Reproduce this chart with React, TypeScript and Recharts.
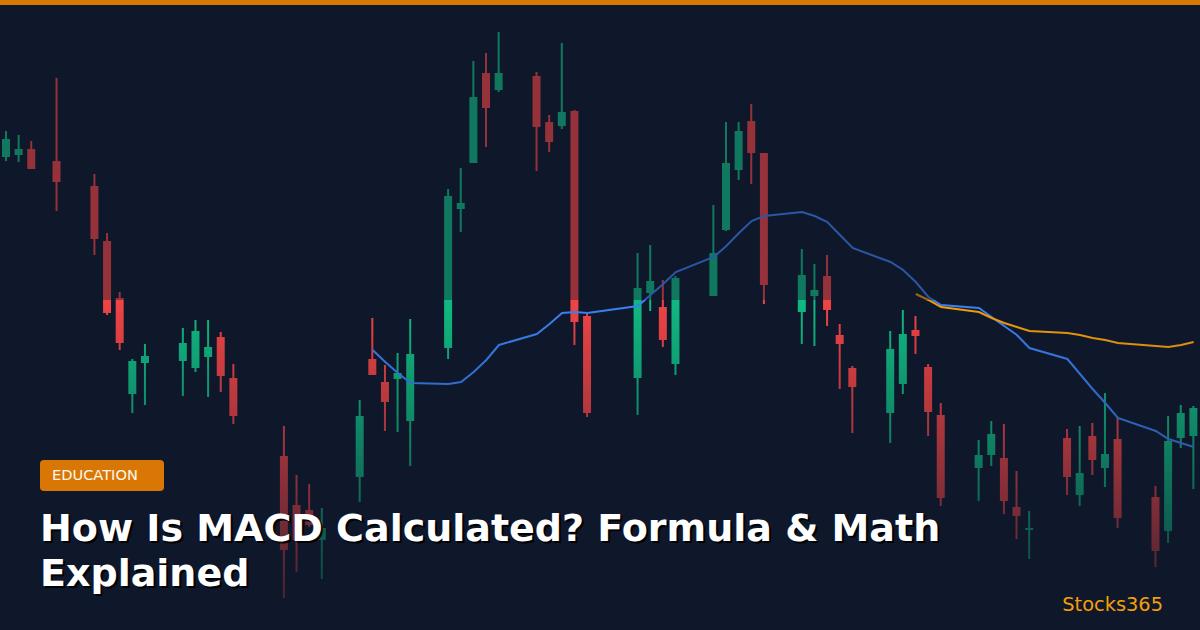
import { ComposedChart, Bar, Line, XAxis, YAxis } from "recharts";

// calendar slots on the x axis (weekends / holidays stay empty)
const TOTAL_DAYS = 95;
const sessionDay = [
  0, 1, 2, 4, 7, 8, 9, 10, 11, 14, 15, 16, 17, 18, 22, 23, 24, 25, 28, 29, 30, 31, 32,
  35, 36, 37, 38, 39, 42, 43, 44, 45, 46, 50, 51, 52, 53, 56, 57, 58, 59, 60,
  63, 64, 65, 66, 67, 70, 71, 72, 73, 74, 77, 78, 79, 80, 81, 84, 85, 86, 87, 88,
  91, 92, 93, 94,
];

const openPx = [
  147.3, 147.5, 148.1, 146.9,
  144.4, 138.9, 133.2, 123.6, 126.7,
  126.9, 126.2, 127.3, 129.3, 125.2,
  117.4, 112.5, 112.0, 109.0,
  115.3, 127.1, 124.8, 125.1, 120.9,
  128.2, 142.1, 146.7, 155.7, 154.0,
  155.4, 150.8, 150.4, 151.9, 131.4,
  125.2, 133.7, 132.3, 126.6,
  133.4, 140.0, 146.0, 150.9, 147.7,
  131.8, 133.4, 135.4, 129.5, 126.2,
  121.7, 124.6, 130.0, 126.3, 121.5,
  116.2, 117.5, 117.2, 112.3, 110.0,
  119.2, 113.5, 119.4, 116.2, 119.1,
  113.3, 109.9, 119.2, 119.4,
];
const highPx = [
  149.9, 149.5, 148.9, 155.2,
  145.6, 139.7, 133.8, 127.1, 128.6,
  130.2, 131.0, 131.0, 129.8, 126.6,
  120.4, 115.5, 114.6, 112.2,
  123.0, 131.2, 126.5, 127.7, 131.1,
  144.1, 146.2, 156.9, 157.7, 159.8,
  155.8, 151.5, 158.7, 152.0, 131.6,
  137.7, 138.5, 135.0, 135.4,
  142.5, 150.8, 150.8, 152.6, 147.7,
  138.1, 136.6, 137.5, 130.6, 126.4,
  129.9, 132.0, 131.4, 126.6, 122.7,
  119.0, 120.9, 120.6, 115.9, 111.9,
  120.1, 120.4, 120.7, 123.7, 121.2,
  114.4, 121.4, 122.5, 122.4,
];
const lowPx = [
  146.9, 146.8, 146.1, 141.9,
  137.5, 131.5, 128.0, 121.7, 122.5,
  123.4, 125.8, 123.3, 123.8, 120.6,
  103.2, 105.8, 110.3, 105.1,
  112.8, 125.5, 119.9, 119.8, 116.4,
  127.1, 139.8, 146.7, 148.3, 153.8,
  145.9, 147.8, 150.1, 128.5, 121.3,
  121.5, 131.9, 128.3, 125.5,
  133.4, 139.9, 145.0, 144.6, 132.6,
  128.6, 128.4, 130.4, 124.1, 119.7,
  118.7, 123.6, 127.6, 119.4, 112.4,
  112.9, 116.4, 111.6, 109.1, 107.1,
  113.5, 112.4, 115.5, 114.3, 110.2,
  106.3, 108.7, 118.2, 114.1,
];
const closePx = [
  149.1, 148.1, 146.1, 144.8,
  139.1, 131.7, 128.7, 126.9, 127.4,
  128.7, 129.9, 128.3, 125.4, 121.4,
  108.0, 109.0, 110.5, 110.2,
  121.4, 125.5, 122.8, 125.7, 127.6,
  143.4, 142.7, 153.3, 152.2, 155.7,
  150.3, 148.8, 151.8, 130.8, 121.7,
  134.2, 134.9, 129.0, 135.2,
  137.7, 146.7, 149.9, 147.7, 134.5,
  135.5, 134.0, 132.0, 128.6, 124.3,
  128.1, 129.6, 129.4, 121.8, 113.2,
  117.5, 119.6, 112.9, 111.4, 110.2,
  115.3, 115.7, 117.0, 117.6, 111.2,
  107.9, 118.9, 121.7, 122.2,
];

// moving averages per session, null until enough history
const fastMa = [
  null, null, null, null, null, null, null, null, null, null,
  null, null, null, null, null, null, null, null, null,
  128.0, 126.8, 125.7, 124.7,
  124.6, 124.8, 125.8, 127.0, 128.5,
  129.6, 130.6, 131.7, 131.8, 131.7,
  132.4, 133.5, 134.6, 135.8,
  137.3, 138.4, 139.7, 140.9, 141.4,
  141.8, 141.4, 140.8, 139.5, 138.2,
  136.8, 136.0, 134.8, 133.3, 132.5,
  132.2, 131.3, 130.4, 129.5, 128.2,
  127.1, 125.6, 124.1, 122.7, 121.2,
  119.9, 119.1, 118.7, 118.3,
];
const slowMa = [
  null, null, null, null, null, null, null, null, null, null,
  null, null, null, null, null, null, null, null, null, null,
  null, null, null, null, null, null, null, null, null, null,
  null, null, null, null, null, null, null, null, null, null,
  null, null, null, null, null, null, null, null, null,
  133.6, 133.0, 132.3,
  131.8, 131.2, 130.7, 130.3, 129.9,
  129.7, 129.5, 129.2, 129.0, 128.7,
  128.4, 128.3, 128.5, 128.8,
];

const UP = "#10b981";
const DOWN = "#ef4444";
const BG = "#0f172a";

const rows = Array.from({ length: TOTAL_DAYS }, (_, day) => {
  const s = sessionDay.indexOf(day);
  if (s < 0) return { day };
  return {
    day,
    open: openPx[s],
    high: highPx[s],
    low: lowPx[s],
    close: closePx[s],
    range: [lowPx[s], highPx[s]],
    fast: fastMa[s],
    slow: slowMa[s],
  };
});

const Candle = (props: any) => {
  const { x, y, width, height, payload } = props;
  if (!payload || payload.open == null) return null;
  const top = Math.min(y, y + height);
  const h = Math.abs(height);
  const k = h / (payload.high - payload.low || 1);
  const up = payload.close >= payload.open;
  const color = up ? UP : DOWN;
  const bTop = top + (payload.high - Math.max(payload.open, payload.close)) * k;
  const bBot = top + (payload.high - Math.min(payload.open, payload.close)) * k;
  const cx = x + width / 2;
  return (
    <g>
      <rect x={cx - 1} y={top} width={2} height={h} fill={color} />
      <rect x={x} y={bTop} width={width} height={Math.max(bBot - bTop, 1.5)} fill={color} />
    </g>
  );
};

export default function App() {
  return (
    <div
      style={{
        position: "fixed",
        left: 0,
        top: 0,
        width: 1200,
        height: 630,
        background: BG,
        overflow: "hidden",
      }}
    >
      <ComposedChart
        width={1200}
        height={630}
        data={rows}
        margin={{ top: 0, right: 0, bottom: 0, left: 0 }}
      >
        <XAxis dataKey="day" type="category" hide />
        <YAxis type="number" domain={[100, 163]} hide allowDataOverflow />
        <Bar dataKey="range" barSize={8} shape={<Candle />} isAnimationActive={false} />
        <Line
          type="linear"
          dataKey="fast"
          stroke="#3b82f6"
          strokeWidth={2}
          dot={false}
          connectNulls
          isAnimationActive={false}
        />
        <Line
          type="linear"
          dataKey="slow"
          stroke="#f59e0b"
          strokeWidth={2}
          dot={false}
          connectNulls
          isAnimationActive={false}
        />
      </ComposedChart>

      {/* darkening over the chart so the headline reads well */}
      <div
        style={{
          position: "absolute",
          inset: 0,
          background:
            "linear-gradient(to bottom, rgba(15,23,42,0.4) 0px, rgba(15,23,42,0.4) 300px, rgba(15,23,42,0) 300px, rgba(15,23,42,0.82) 630px)",
        }}
      />

      <svg width={1200} height={630} style={{ position: "absolute", left: 0, top: 0 }}>
        <rect x={0} y={0} width={1200} height={5} fill="#d97706" />
        <rect x={40} y={460} width={124} height={31} rx={4} fill="#d97706" />
        <text x={52} y={480} fontFamily="DejaVu Sans" fontSize={14.6} fill="#fff7ed">
          EDUCATION
        </text>
        <g fontFamily="DejaVu Sans" fontWeight="bold" fontSize={38}>
          <text x={42} y={543} fill="#000" opacity={0.9}>
            How Is MACD Calculated? Formula &amp; Math
          </text>
          <text x={42} y={588} fill="#000" opacity={0.9}>
            Explained
          </text>
          <text x={40} y={541} fill="#ffffff">
            How Is MACD Calculated? Formula &amp; Math
          </text>
          <text x={40} y={586} fill="#ffffff">
            Explained
          </text>
        </g>
        <text
          x={1163}
          y={611}
          textAnchor="end"
          fontFamily="DejaVu Sans"
          fontSize={19.4}
          fill="#f59e0b"
        >
          Stocks365
        </text>
      </svg>
    </div>
  );
}
